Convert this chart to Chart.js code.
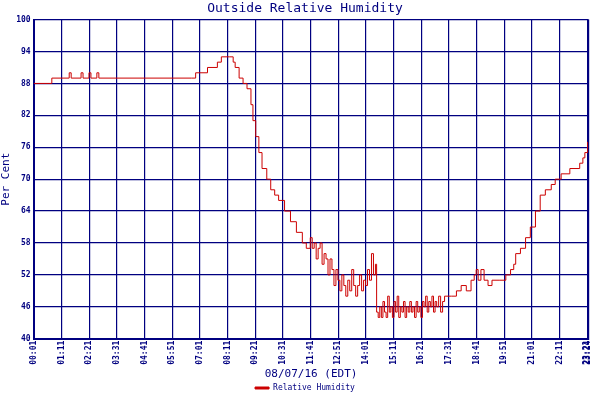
<!DOCTYPE html>
<html lang="en">
<head>
    <meta charset="UTF-8">
    <title>Outside Relative Humidity</title>
    <script src="https://cdn.jsdelivr.net/npm/chart.js"></script>
    <style>
        body { margin: 0; background: #fff; }
    </style>
</head>
<body>
    <canvas id="chart" width="600" height="400"></canvas>
    <script>
        // minutes since midnight and humidity (%)
        const minutes = [0,45,46,90,95,120,125,140,145,160,165,400,410,440,465,475,495,505,510,520,530,540,550,555,562,570,578,590,600,610,620,635,650,665,680,690,
            700,705,710,715,720,725,730,735,740,745,750,755,760,765,770,775,780,785,790,795,800,805,810,815,820,825,830,835,840,845,850,855,860,865,
            868,872,876,880,884,888,892,896,900,904,908,912,916,920,924,928,932,936,940,944,948,952,956,960,964,968,972,976,980,984,988,992,996,1000,1004,1008,1012,1016,1020,1025,1030,1035,1040,
            1057,1070,1082,1095,1107,1115,1120,1125,1132,1140,1150,1160,1180,1195,1207,1215,1220,1232,1245,1257,1270,1282,1295,1310,1320,1335,1357,1382,1390,1395,1402];
        const humidity = [88,88,89,90,89,90,89,90,89,90,89,89,90,91,92,93,93,92,91,89,88,87,84,81,78,75,72,70,68,67,66,64,62,60,58,57,
            59,57,58,55,57,58,54,56,55,52,55,53,50,53,51,49,52,50,48,51,49,53,50,48,50,52,49,51,50,53,51,56,52,54,
            45,44,46,44,47,45,44,48,45,46,44,47,45,48,44,46,45,47,44,46,45,47,45,46,44,47,45,46,44,47,46,48,45,47,46,48,45,47,46,48,45,47,48,
            48,49,50,49,51,52,53,51,53,51,50,51,51,52,53,54,56,57,59,61,64,67,68,69,70,71,72,73,74,75,77];
        const yTicks = [40,46,52,58,64,70,76,82,88,94,100];
        const xTicks = [1,71,141,211,281,351,421,491,561,631,701,771,841,911,981,1051,1121,1191,1261,1331,1401,1404];

        const navy = '#000080';
        const font = { family: 'DejaVu Sans Mono', size: 8, weight: 'bold' };
        function fmt(m) {
            const h = Math.floor(m / 60), mm = m % 60;
            return String(h).padStart(2, '0') + ':' + String(mm).padStart(2, '0');
        }

        new Chart(document.getElementById('chart'), {
            type: 'line',
            data: {
                datasets: [{
                    label: 'Relative Humidity',
                    data: minutes.map((m, i) => ({ x: m, y: humidity[i] })),
                    borderColor: '#cc0000',
                    backgroundColor: '#cc0000',
                    borderWidth: 1,
                    pointRadius: 0,
                    stepped: true,
                    fill: false
                }]
            },
            options: {
                responsive: false,
                animation: false,
                layout: { padding: { right: -10, bottom: -2 } },
                plugins: {
                    title: { display: true, text: 'Outside Relative Humidity', color: navy,
                        font: { family: 'DejaVu Sans Mono', size: 13, weight: 'normal' }, padding: { top: 1, bottom: 3 } },
                    legend: { position: 'bottom', labels: { color: navy, font: { family: 'DejaVu Sans Mono', size: 8 },
                        boxWidth: 14, boxHeight: 2, padding: 2 } },
                    tooltip: { enabled: false }
                },
                scales: {
                    x: {
                        type: 'linear', min: 0, max: 1404,
                        afterBuildTicks: s => { s.ticks = xTicks.map(v => ({ value: v })); },
                        ticks: { color: navy, font: font, minRotation: 90, maxRotation: 90, autoSkip: false, padding: 2,
                            callback: v => fmt(v) },
                        grid: { color: navy, lineWidth: 1.2, drawTicks: false },
                        border: { color: navy, width: 2 },
                        title: { display: true, text: '08/07/16 (EDT)', color: navy,
                            font: { family: 'DejaVu Sans Mono', size: 11 }, padding: 1 }
                    },
                    y: {
                        min: 40, max: 100,
                        afterBuildTicks: s => { s.ticks = yTicks.map(v => ({ value: v })); },
                        ticks: { color: navy, font: font, padding: 3 },
                        grid: { color: navy, lineWidth: 1.2, drawTicks: false },
                        border: { color: navy, width: 2 },
                        title: { display: true, text: 'Per Cent', color: navy,
                            font: { family: 'DejaVu Sans Mono', size: 11 }, padding: 0 }
                    }
                }
            }
        });
    </script>
</body>
</html>
